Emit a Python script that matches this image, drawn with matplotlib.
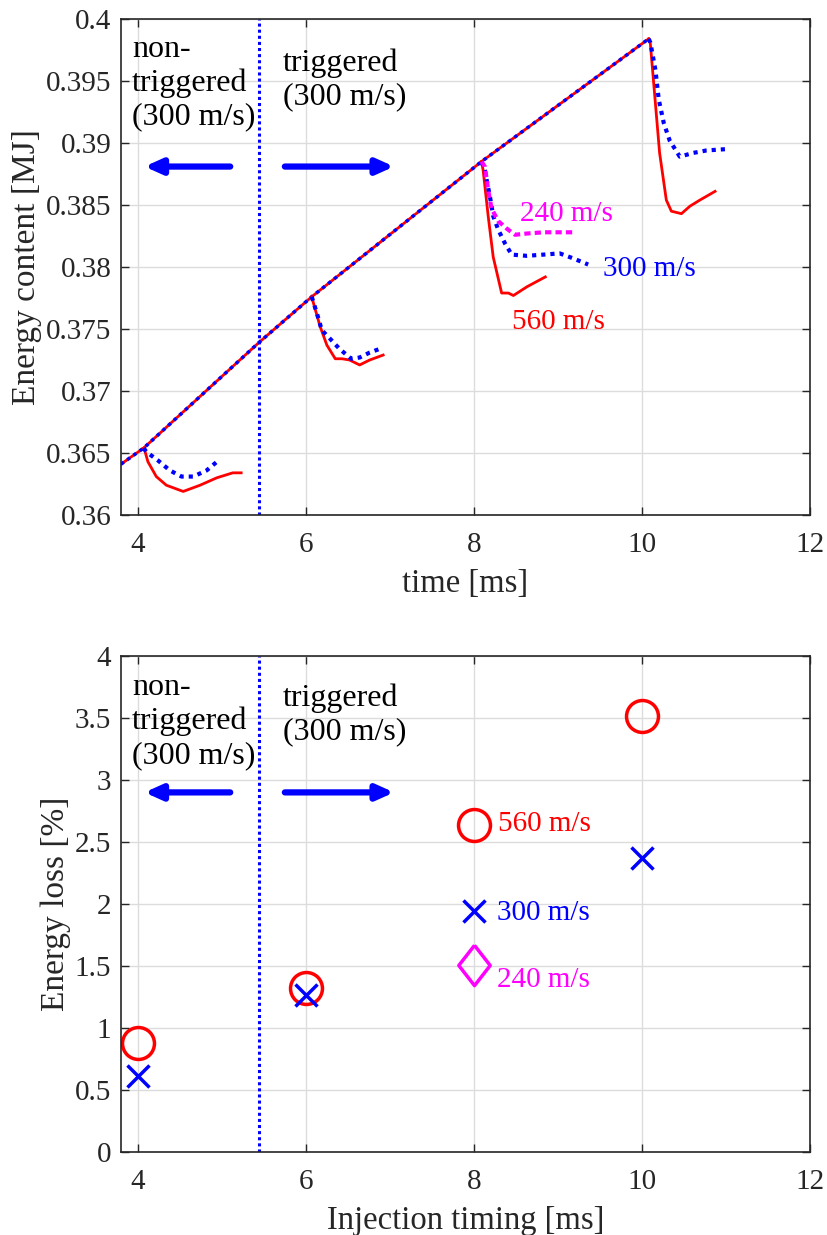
import matplotlib.pyplot as plt
import numpy as np

plt.rcParams['font.family'] = ['Liberation Serif', 'DejaVu Serif']
plt.rcParams['mathtext.fontset'] = 'stix'

# stored energy ramp before injection
t_ramp = [3.8, 4.07, 5.44, 6.07, 8.09, 10.08]
e_ramp = [0.3641, 0.3654, 0.3739, 0.3776, 0.3885, 0.3984]

# 560 m/s (red) energy after each injection
t_560 = [
    [4.07, 4.083, 4.12, 4.22, 4.34, 4.54, 4.74, 4.94, 5.13, 5.23],
    [6.07, 6.09, 6.17, 6.25, 6.35, 6.43, 6.52, 6.64, 6.76, 6.92],
    [8.09, 8.11, 8.17, 8.23, 8.33, 8.41, 8.47, 8.63, 8.85],
    [10.08, 10.10, 10.16, 10.21, 10.29, 10.35, 10.47, 10.57, 10.69, 10.87],
]
e_560 = [
    [0.3654, 0.3652, 0.3643, 0.3631, 0.3624, 0.3619, 0.3624, 0.3630, 0.3634, 0.3634],
    [0.3776, 0.3771, 0.3752, 0.3737, 0.3726, 0.3726, 0.3725, 0.3721, 0.3725, 0.3729],
    [0.3885, 0.3878, 0.3841, 0.3808, 0.3779, 0.3779, 0.3777, 0.3784, 0.3792],
    [0.3984, 0.3980, 0.3932, 0.3892, 0.3854, 0.3845, 0.3843, 0.3849, 0.3854, 0.3861],
]

# 300 m/s (blue)
t_300 = [
    [4.07, 4.10, 4.24, 4.38, 4.52, 4.66, 4.82, 4.96],
    [6.07, 6.13, 6.19, 6.29, 6.40, 6.54, 6.64, 6.76, 6.88],
    [8.09, 8.13, 8.19, 8.23, 8.29, 8.37, 8.45, 8.63, 8.83, 9.02, 9.18, 9.36],
    [10.08, 10.10, 10.16, 10.20, 10.26, 10.33, 10.45, 10.61, 10.77, 10.99],
]
e_300 = [
    [0.3654, 0.3651, 0.3644, 0.3636, 0.3631, 0.3631, 0.3636, 0.3644],
    [0.3776, 0.3763, 0.3749, 0.3742, 0.3734, 0.3726, 0.3727, 0.3731, 0.3734],
    [0.3885, 0.3878, 0.3857, 0.3841, 0.3830, 0.3819, 0.3810, 0.3809, 0.3810, 0.3811, 0.3807, 0.3802],
    [0.3984, 0.3981, 0.3959, 0.3935, 0.3916, 0.3902, 0.3889, 0.3892, 0.3894, 0.3895],
]

# 240 m/s (magenta), only at 8 ms
t_240 = [8.09, 8.13, 8.17, 8.21, 8.29, 8.39, 8.49, 8.63, 8.83, 9.02, 9.18]
e_240 = [0.3885, 0.3881, 0.3862, 0.3847, 0.3837, 0.3831, 0.3826, 0.3827, 0.3828, 0.3828, 0.3828]

# energy loss vs injection timing
inj_t = [4, 6, 8, 10]
loss_560 = [0.88, 1.32, 2.64, 3.52]
loss_300 = [0.61, 1.27, 1.94, 2.37]
inj_t_240 = [8]
loss_240 = [1.51]

t_trig = 5.44

fig = plt.figure(figsize=(8.28, 12.35), dpi=100)
W, H = 828, 1235
ax1 = fig.add_axes([121 / W, 1 - 515 / H, 689 / W, 496 / H])
ax2 = fig.add_axes([121 / W, 1 - 1152 / H, 689 / W, 496 / H])

edge = '#262626'
for ax in (ax1, ax2):
    ax.grid(True, color='#dcdcdc', linewidth=1)
    ax.set_axisbelow(True)
    for s in ax.spines.values():
        s.set_color(edge)
        s.set_linewidth(1.2)
    ax.tick_params(direction='in', length=6, width=1, colors=edge, labelsize=21,
                   top=True, right=True)
    ax.tick_params(axis='x', pad=12)
    ax.tick_params(axis='y', pad=7)
    ax.set_xlim(3.8, 12)
    ax.set_xticks([4, 6, 8, 10, 12])

# top: energy content
ax1.plot(t_ramp, e_ramp, color='red', lw=2)
ax1.plot(t_ramp, e_ramp, color='blue', lw=2.5, ls=(0, (1, 1.2)))
for t, e in zip(t_560, e_560):
    ax1.plot(t, e, color='red', lw=2)
for t, e in zip(t_300, e_300):
    ax1.plot(t, e, color='blue', lw=3, ls=(0, (1, 1.2)))
ax1.plot(t_240, e_240, color='magenta', lw=3, ls=(0, (1.5, 1)))
ax1.axvline(t_trig, color='blue', lw=2.2, ls=(0, (1, 1)))
ax1.set_ylim(0.36, 0.4)
ax1.set_yticks(np.arange(0.36, 0.4001, 0.005))
ax1.set_yticklabels(['0.36', '0.365', '0.37', '0.375', '0.38', '0.385', '0.39', '0.395', '0.4'])
ax1.set_xlabel('time [ms]', fontsize=23.5, color=edge, labelpad=8)
ax1.set_ylabel('Energy content [MJ]', fontsize=24, color=edge, labelpad=3)

ax1.text(8.55, 0.3843, '240 m/s', color='magenta', fontsize=21, va='center')
ax1.text(9.54, 0.3798, '300 m/s', color='blue', fontsize=21, va='center')
ax1.text(8.45, 0.3756, '560 m/s', color='red', fontsize=21, va='center')

# bottom: energy loss
diamond = [(0, 1), (0.78, 0), (0, -1), (-0.78, 0), (0, 1)]
ax2.plot(inj_t, loss_560, 'o', ms=23, mfc='none', mec='red', mew=2.5)
ax2.plot(inj_t, loss_300, 'x', ms=16, mec='blue', mew=2.5)
ax2.plot(inj_t_240, loss_240, marker=diamond, ls='none', ms=29, mfc='none',
         mec='magenta', mew=2.5)
ax2.axvline(t_trig, color='blue', lw=2.2, ls=(0, (1, 1)))
ax2.set_ylim(0, 4)
ax2.set_yticks(np.arange(0, 4.01, 0.5))
ax2.set_yticklabels(['0', '0.5', '1', '1.5', '2', '2.5', '3', '3.5', '4'])
ax2.set_xlabel('Injection timing [ms]', fontsize=23.5, color=edge, labelpad=8)
ax2.set_ylabel('Energy loss [%]', fontsize=24, color=edge, labelpad=3)

ax2.text(8.29, 2.645, '560 m/s', color='red', fontsize=21, va='center')
ax2.text(8.27, 1.927, '300 m/s', color='blue', fontsize=21, va='center')
ax2.text(8.28, 1.387, '240 m/s', color='magenta', fontsize=21, va='center')

# region annotations with arrows
for ax, y_left, y_right, yarr in ((ax1, 0.3987, 0.3976, 0.3881),
                                  (ax2, 3.86, 3.78, 2.9)):
    ax.text(3.93, y_left, 'non-\ntriggered\n(300 m/s)', fontsize=23, color='black',
            va='top', linespacing=1.2)
    ax.text(5.73, y_right, 'triggered\n(300 m/s)',
            fontsize=23, color='black', va='top', linespacing=1.2)
    ax.annotate('', xy=(4.08, yarr), xytext=(5.1, yarr),
                arrowprops=dict(arrowstyle='-|>,head_length=1.0,head_width=0.45',
                                color='blue', lw=4.5, shrinkA=0, shrinkB=0))
    ax.annotate('', xy=(7.05, yarr), xytext=(5.75, yarr),
                arrowprops=dict(arrowstyle='-|>,head_length=1.0,head_width=0.45',
                                color='blue', lw=4.5, shrinkA=0, shrinkB=0))

fig.savefig('out.png', dpi=100)
